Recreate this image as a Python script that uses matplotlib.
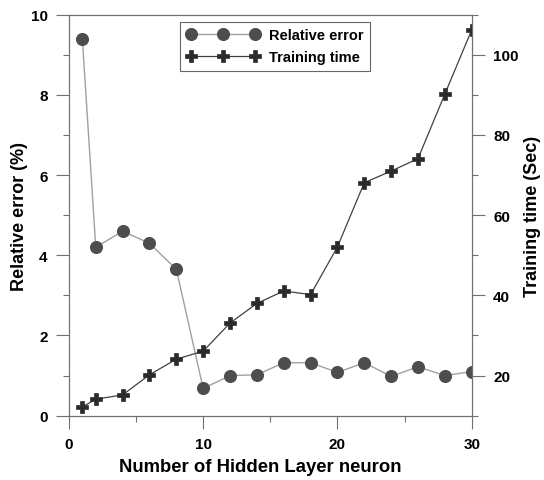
import numpy as np
import matplotlib.pyplot as plt
from matplotlib.ticker import MultipleLocator

plt.rcParams['font.family'] = ['Liberation Sans', 'DejaVu Sans']
plt.rcParams['font.weight'] = 'bold'

# hidden layer neurons
neurons = [1, 2, 4, 6, 8, 10, 12, 14, 16, 18, 20, 22, 24, 26, 28, 30]
# relative error (%)
rel_err = [9.4, 4.2, 4.6, 4.3, 3.65, 0.68, 1.0, 1.02, 1.32, 1.32, 1.08, 1.32, 0.98, 1.22, 1.0, 1.1]
# training time (sec)
train_time = [12.2, 14.1, 15.2, 20.2, 24.1, 26.1, 33.1, 38.0, 41.1, 40.2, 52.1, 68.1, 71.0, 74.1, 90.2, 106.2]

fig = plt.figure(figsize=(5.44, 4.81), dpi=100)
ax = fig.add_axes([0.1267, 0.1337, 0.7404, 0.8337])
ax2 = ax.twinx()

l1, = ax.plot(neurons, rel_err, color='#a0a0a0', lw=1, marker='o', ms=8.4,
              mfc='#4d4d4d', mec='#4d4d4d', label='Relative error')
l2, = ax2.plot(neurons, train_time, color='#404040', lw=0.9, marker='P', ms=8,
               mfc='#2b2b2b', mec='#2b2b2b', mew=0.5, label='Training time')

ax.set_xlim(0, 30)
ax.set_ylim(0, 10)
ax2.set_ylim(10, 110)

ax.xaxis.set_major_locator(MultipleLocator(10))
ax.xaxis.set_minor_locator(MultipleLocator(5))
ax.yaxis.set_major_locator(MultipleLocator(2))
ax.yaxis.set_minor_locator(MultipleLocator(1))
ax2.yaxis.set_minor_locator(MultipleLocator(10))
ax2.set_yticks([20, 40, 60, 80, 100])

for a in (ax, ax2):
    for s in a.spines.values():
        s.set_color('#707070')
        s.set_linewidth(0.8)
    a.tick_params(which='both', direction='out', color='#707070', width=0.8,
                  labelsize=11, pad=6)
    a.tick_params(which='major', length=9.4)
    a.tick_params(which='minor', length=4.3)
    for lab in a.get_xticklabels() + a.get_yticklabels():
        lab.set_fontweight('bold')

ax.set_xlabel('Number of Hidden Layer neuron', fontsize=13.3, fontweight='bold', labelpad=5)
ax.xaxis.set_label_coords(0.475, -0.105)
ax.set_ylabel('Relative error (%)', fontsize=13, fontweight='bold', labelpad=2)
ax2.set_ylabel('Training time (Sec)', fontsize=13, fontweight='bold', labelpad=4)

leg = ax.legend([l1, l2], ['Relative error', 'Training time'], loc='upper center',
                bbox_to_anchor=(0.512, 0.982), numpoints=3, fancybox=False,
                edgecolor='#404040', fontsize=10.5, handlelength=5.0,
                borderpad=0.45, handletextpad=0.66, labelspacing=0.55,
                borderaxespad=0)
leg.get_frame().set_linewidth(0.8)
for t in leg.get_texts():
    t.set_fontweight('bold')

fig.savefig('out.png', dpi=100)
